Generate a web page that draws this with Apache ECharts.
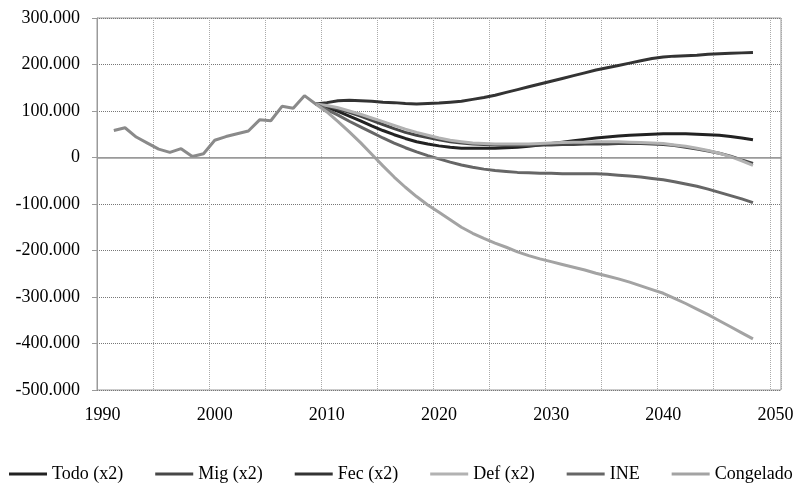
<!DOCTYPE html>
<html>
<head>
<meta charset="utf-8">
<script src="https://cdn.jsdelivr.net/npm/echarts@6/dist/echarts.min.js"></script>
<style>html,body{margin:0;padding:0;background:#fff;}#c{width:797px;height:483px;}</style>
</head>
<body>
<div id="c"></div>
<script>
// Units: thousands
const firstYear = 1990, lastYear = 2050;
const histStart = 1991;
const history = [58,64,44,31,18,11,19,2,8,37,45,51,57,81,79,110,106,133,115]; // 1991-2009
const projStart = 2010;
const todo = [108,99,89,79,68,58,49,41,34,29, 25,22,20,20,20,20,21,22,24,27, 30,33,36,39,42,44,46,48,49,50, 51,51,51,50,49,48,45,42,38];
const mig = [110,104,97,89,80,71,62,54,48,43, 38,34,31,29,28,27,26,26,26,27, 27,28,28,29,29,29,30,30,30,29, 28,26,22,18,14,9,3,-5,-13];
const fec = [118,122,123,122,121,119,118,116,115,116, 117,119,121,125,129,134,140,146,152,158, 164,170,176,182,188,193,198,203,208,213, 216,218,219,220,222,223,224,225,226];
const def = [112,107,100,93,85,77,69,61,54,48, 42,37,34,31,30,29,29,29,29,30, 31,32,33,33,34,34,34,33,32,31, 30,27,24,20,15,9,2,-7,-17];
const ine = [103,91,78,66,54,42,31,21,12,4, -3,-10,-16,-21,-25,-28,-30,-32,-33,-34, -34,-35,-35,-35,-35,-36,-38,-40,-42,-45, -48,-52,-57,-62,-68,-75,-82,-89,-97];
const congelado = [98,77,55,32,7,-18,-42,-64,-84,-102, -118,-134,-150,-163,-174,-184,-193,-203,-211,-218, -224,-230,-236,-242,-249,-255,-261,-268,-276,-284, -292,-303,-314,-326,-338,-351,-364,-377,-390];
const names = ['Todo (x2)','Mig (x2)','Fec (x2)','Def (x2)','INE','Congelado'];
const colors = ['#222222','#474747','#333333','#b2b2b2','#666666','#a3a3a3'];
const projections = [todo, mig, fec, def, ine, congelado];

const years = [];
for (let y = firstYear; y <= lastYear; y++) years.push(String(y));

function place(start, vals) {
  const arr = years.map(() => null);
  vals.forEach((v, i) => { arr[start - firstYear + i] = v; });
  return arr;
}
const lastHist = history[history.length - 1];
const font = 'Liberation Serif';

const series = projections.map((p, i) => ({
  name: names[i], type: 'line', symbol: 'none', smooth: false,
  data: place(projStart - 1, [lastHist].concat(p)),
  lineStyle: { width: 3, color: colors[i] }, itemStyle: { color: colors[i] },
  z: 3
}));
series.push({
  name: 'hist', type: 'line', symbol: 'none', data: place(histStart, history),
  lineStyle: { width: 3, color: '#8a8a8a' }, itemStyle: { color: '#8a8a8a' }, z: 3,
  markLine: { silent: true, symbol: 'none', label: { show: false },
    lineStyle: { color: '#9a9a9a', type: 'solid', width: 1.5 }, data: [{ yAxis: 0 }] }
});

const chart = echarts.init(document.getElementById('c'));
chart.setOption({
  animation: false,
  backgroundColor: '#fff',
  grid: { left: 97, right: 16, top: 18, bottom: 93, containLabel: false,
    show: true, borderColor: '#9a9a9a', borderWidth: 1 },
  legend: {
    data: names, left: 9, top: 465, width: 797, padding: 0, itemWidth: 38, itemHeight: 3, itemGap: 32, icon: 'rect',
    textStyle: { fontFamily: font, fontSize: 18, color: '#000' }
  },
  xAxis: {
    type: 'category', data: years, boundaryGap: true,
    axisLine: { lineStyle: { color: '#9a9a9a' } },
    axisTick: { show: false },
    axisLabel: { interval: 9, margin: 16, fontFamily: font, fontSize: 18, color: '#000' },
    splitLine: { show: true, interval: 4, lineStyle: { color: '#aaaaaa', type: 'dotted', width: 1 } }
  },
  yAxis: {
    type: 'value', min: -500, max: 300, interval: 100,
    axisLine: { show: true, lineStyle: { color: '#9a9a9a' } },
    axisTick: { show: true, length: 5, lineStyle: { color: '#9a9a9a' } },
    axisLabel: { margin: 17, fontFamily: font, fontSize: 18, color: '#000',
      formatter: v => v === 0 ? '0' : v + '.000' },
    splitLine: { show: true, lineStyle: { color: '#777777', type: 'dotted', width: 1 } }
  },
  series: series
});
</script>
</body>
</html>
